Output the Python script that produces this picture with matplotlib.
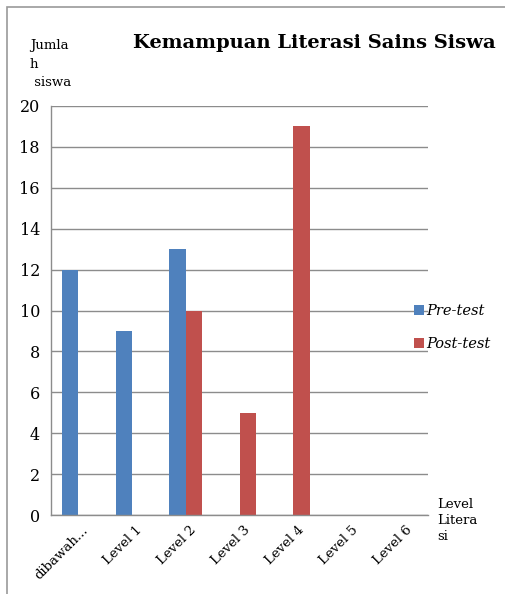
import numpy as np
import matplotlib.pyplot as plt
from matplotlib.patches import Rectangle
from matplotlib.transforms import ScaledTranslation

categories = ['dibawah...', 'Level 1', 'Level 2', 'Level 3', 'Level 4', 'Level 5', 'Level 6']
pre_test = [12, 9, 13, 0, 0, 0, 0]
post_test = [0, 0, 10, 5, 19, 0, 0]
y_ticks = [0, 2, 4, 6, 8, 10, 12, 14, 16, 18, 20]

blue = '#4F81BD'
red = '#C0504D'
grid_gray = '#8C8C8C'
serif = ['DejaVu Serif']

fig = plt.figure(figsize=(5.05, 5.94), dpi=100)

# outer frame of the chart box
fig.patches.append(Rectangle((7 / 505, -0.1), 1.2, 1 - 7 / 594 + 0.1, transform=fig.transFigure,
                             fill=False, edgecolor='#9A9A9A', linewidth=1.2))

ax = fig.add_axes([51 / 505, 1 - 515 / 594, 377 / 505, 409 / 594])
x = np.arange(len(categories))
w = 0.3
ax.bar(x - w / 2, pre_test, width=w, color=blue, label='Pre-test')
ax.bar(x + w / 2, post_test, width=w, color=red, label='Post-test')

ax.set_xlim(-0.5, len(categories) - 0.5)
ax.set_ylim(0, 20)
ax.set_yticks(y_ticks)
ax.set_yticklabels([str(t) for t in y_ticks], family=serif, fontsize=11.5)
ax.yaxis.grid(True, color=grid_gray, linewidth=1)
ax.set_axisbelow(True)
ax.tick_params(axis='both', length=0, pad=8)
ax.set_xticks(x)
ax.set_xticklabels(categories, rotation=45, ha='right', va='top', rotation_mode='anchor',
                   family=serif, fontsize=9.5)
ax.tick_params(axis='x', pad=6)
shift = ScaledTranslation(4 / 100, 0, fig.dpi_scale_trans)
for lbl in ax.get_xticklabels():
    lbl.set_transform(lbl.get_transform() + shift)
for s in ['top', 'right']:
    ax.spines[s].set_visible(False)
ax.spines['left'].set_color(grid_gray)
ax.spines['bottom'].set_color(grid_gray)
ax.spines['left'].set_linewidth(1)
ax.spines['bottom'].set_linewidth(1)

fig.text(314 / 505, 1 - 43 / 594, 'Kemampuan Literasi Sains Siswa', ha='center', va='center',
         family=serif, fontsize=14, fontweight='bold')
fig.text(30 / 505, 1 - 64 / 594, 'Jumla\nh\n siswa', ha='left', va='center',
         family=serif, fontsize=9.5, linespacing=1.5)
fig.text(437 / 505, 1 - 521 / 594, 'Level\nLitera\nsi', ha='left', va='center',
         family=serif, fontsize=9.5, linespacing=1.3)

leg = ax.legend(loc='center left', bbox_to_anchor=((414 - 51) / 377, 0.458), frameon=False,
                borderaxespad=0, borderpad=0,
                prop={'family': serif, 'style': 'italic', 'size': 10.5},
                handlelength=0.7, handleheight=0.7, handletextpad=0.15, labelspacing=1.3)

fig.savefig('out.png', dpi=100)
